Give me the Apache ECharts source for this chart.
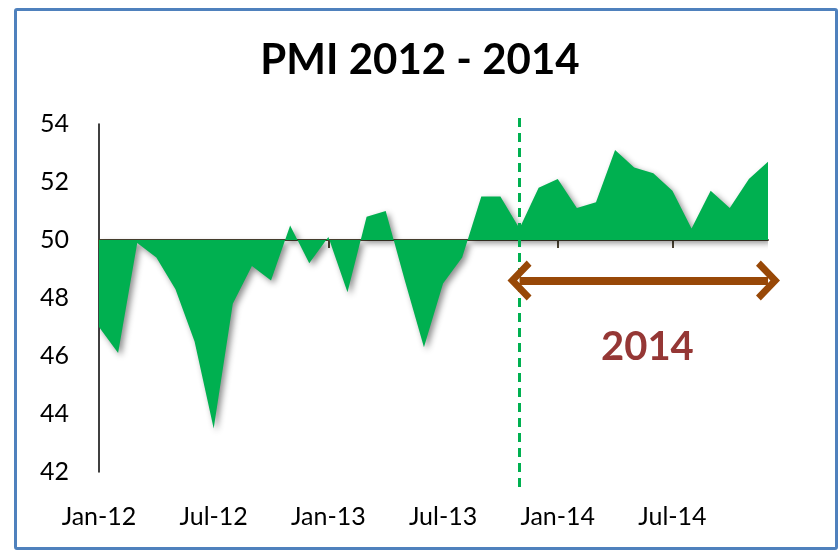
<!DOCTYPE html>
<html>
<head>
<meta charset="utf-8">
<script src="https://cdn.jsdelivr.net/npm/echarts@6/dist/echarts.min.js"></script>
<style>
  html, body { margin: 0; padding: 0; background: #fff; }
  #chart { width: 840px; height: 550px; }
  .frame {
    position: absolute; left: 14px; top: 8px; width: 818px; height: 536px;
    border: 3px solid #4f81bd; border-radius: 3px; pointer-events: none;
  }
</style>
</head>
<body>
<div id="chart"></div>
<div class="frame"></div>
<script>
// months Jan-12 .. Dec-14
const months = [
  'Jan-12', 'Feb-12', 'Mar-12', 'Apr-12', 'May-12', 'Jun-12', 'Jul-12', 'Aug-12', 'Sep-12', 'Oct-12', 'Nov-12', 'Dec-12',
  'Jan-13', 'Feb-13', 'Mar-13', 'Apr-13', 'May-13', 'Jun-13', 'Jul-13', 'Aug-13', 'Sep-13', 'Oct-13', 'Nov-13', 'Dec-13',
  'Jan-14', 'Feb-14', 'Mar-14', 'Apr-14', 'May-14', 'Jun-14', 'Jul-14', 'Aug-14', 'Sep-14', 'Oct-14', 'Nov-14', 'Dec-14'
]
const pmi = [
  47.0, 46.1, 49.9, 49.4, 48.3, 46.5, 43.5, 47.8, 49.1, 48.6, 50.5, 49.2,
  50.1, 48.2, 50.8, 51.0, 48.6, 46.3, 48.5, 49.4, 51.5, 51.5, 50.4, 51.8,
  52.1, 51.1, 51.3, 53.1, 52.5, 52.3, 51.7, 50.4, 51.7, 51.1, 52.1, 52.7
]
const yTicks = [42, 54, 2] // min, max, step
const baseline = 50
const markerMonth = 'Nov-13'
const arrowRange = ['Nov-13', 'Dec-14']
const arrowLevel = 48.6

// open arrow head (chevron), points up before rotation
const chevron = 'path://M5 0 L10 5.2 L8.7 6.5 L5 2.6 L1.3 6.5 L0 5.2 Z'

const chart = echarts.init(document.getElementById('chart'))
chart.setOption({
  animation: false,
  textStyle: { fontFamily: 'Lato' },
  title: [
    {
      text: 'PMI 2012 - 2014',
      left: 'center',
      top: 34,
      textStyle: { fontFamily: 'Lato', fontWeight: 'bold', fontSize: 42, color: '#000' }
    },
    {
      text: '2014',
      left: 596,
      top: 322,
      textStyle: { fontFamily: 'Lato', fontWeight: 'bold', fontSize: 40, color: '#953735' }
    }
  ],
  grid: { left: 99, right: 72, top: 124, bottom: 78 },
  xAxis: [
    {
      type: 'category',
      data: months,
      boundaryGap: false,
      axisLine: { show: false },
      axisTick: { show: false },
      axisLabel: {
        interval: 5,
        margin: 32,
        fontSize: 25,
        color: '#000'
      }
    },
    {
      // baseline at 50 with the half-year ticks
      type: 'category',
      data: months,
      position: 'top',
      offset: -116,
      boundaryGap: false,
      axisLine: { show: true, lineStyle: { color: '#4a4230', width: 2 } },
      axisTick: { show: true, inside: true, interval: 5, length: 8, lineStyle: { color: '#4a4230', width: 2 } },
      axisLabel: { show: false }
    }
  ],
  yAxis: {
    type: 'value',
    min: yTicks[0],
    max: yTicks[1],
    interval: yTicks[2],
    axisLine: { show: true, lineStyle: { color: '#000', width: 1.5 } },
    axisTick: { show: false },
    splitLine: { show: false },
    axisLabel: { margin: 30, fontSize: 25, color: '#000' }
  },
  series: [
    {
      type: 'line',
      data: pmi,
      symbol: 'none',
      lineStyle: { width: 0 },
      areaStyle: {
        origin: baseline,
        color: '#00b050',
        opacity: 1,
        shadowColor: 'rgba(0,0,0,0.45)',
        shadowBlur: 6,
        shadowOffsetX: 3,
        shadowOffsetY: 3
      },
      z: 1,
      markLine: {
        silent: true,
        animation: false,
        data: [
          [
            { xAxis: markerMonth, y: 118, symbol: 'none' },
            { xAxis: markerMonth, y: 488, symbol: 'none',
              lineStyle: { color: '#00b050', width: 3, type: [9, 6] } }
          ],
          [
            { coord: [arrowRange[0], arrowLevel], symbol: chevron },
            { coord: [arrowRange[1], arrowLevel], symbol: chevron }
          ]
        ],
        symbolSize: [40, 24],
        lineStyle: { color: '#984807', width: 8, type: 'solid' },
        label: { show: false }
      }
    }
  ]
})
</script>
</body>
</html>
